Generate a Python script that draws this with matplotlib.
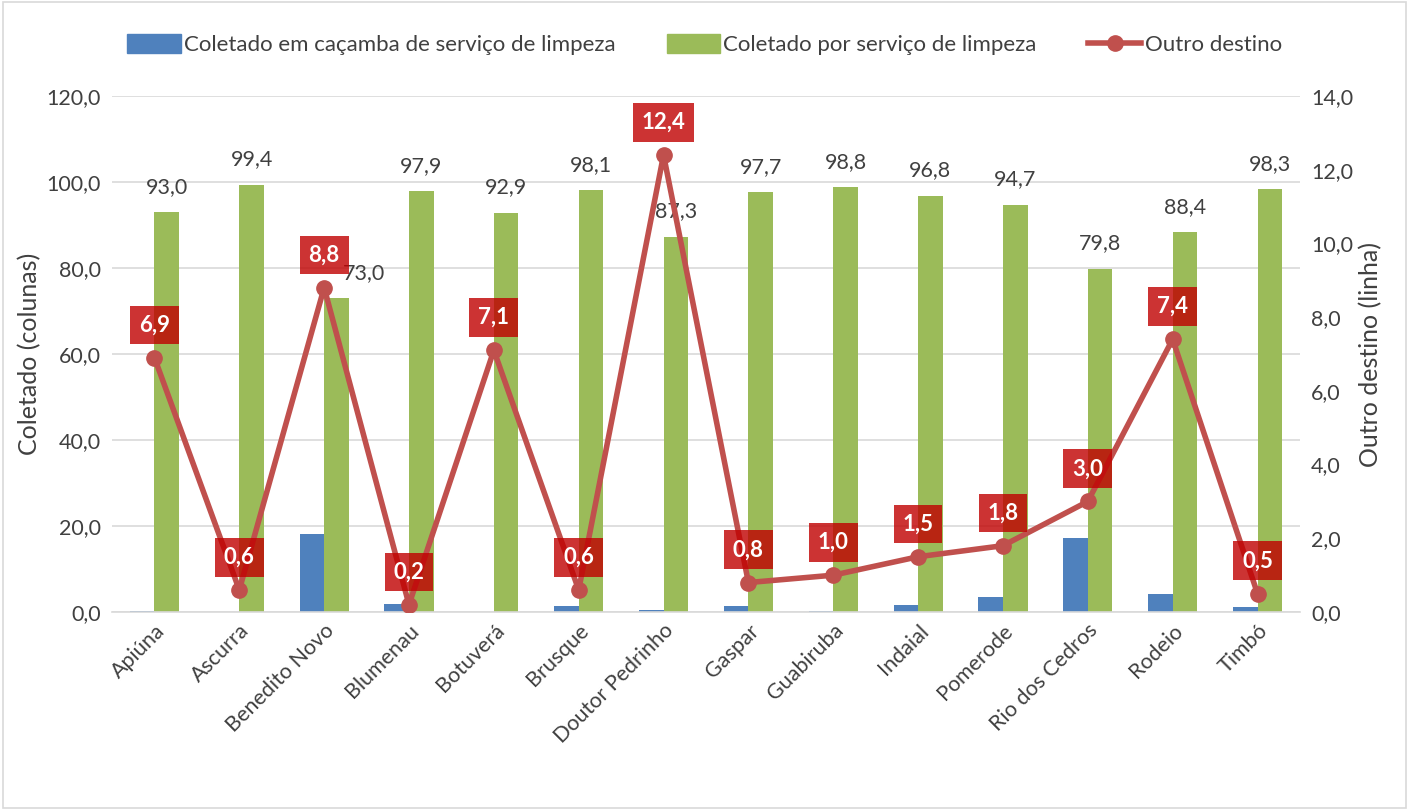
import numpy as np
import matplotlib
matplotlib.use("Agg")
import matplotlib.pyplot as plt
from matplotlib.lines import Line2D
from matplotlib.patches import Patch, Rectangle

plt.rcParams['font.family'] = ['Lato', 'DejaVu Sans']

municipios = ["Apiúna", "Ascurra", "Benedito Novo", "Blumenau", "Botuverá", "Brusque",
              "Doutor Pedrinho", "Gaspar", "Guabiruba", "Indaial", "Pomerode",
              "Rio dos Cedros", "Rodeio", "Timbó"]
cacamba = [0.2, 0.0, 18.1, 1.9, 0.0, 1.3, 0.4, 1.4, 0.2, 1.6, 3.4, 17.1, 4.1, 1.1]
servico = [93.0, 99.4, 73.0, 97.9, 92.9, 98.1, 87.3, 97.7, 98.8, 96.8, 94.7, 79.8, 88.4, 98.3]
outro = [6.9, 0.6, 8.8, 0.2, 7.1, 0.6, 12.4, 0.8, 1.0, 1.5, 1.8, 3.0, 7.4, 0.5]

BLUE = "#4F81BD"
GREEN = "#9BBB59"
RED = "#C0504D"
TXT = "#404040"


def fmt(v):
    return "{:.1f}".format(v).replace(".", ",")


fig = plt.figure(figsize=(14.09, 8.10), dpi=100)
fig.patches.append(Rectangle((0.002, 0.002), 0.996, 0.996, transform=fig.transFigure,
                             fill=False, edgecolor="#d9d9d9", lw=1.2))
ax = fig.add_axes([0.0795, 0.2444, 0.8431, 0.6371])
ax2 = ax.twinx()

x = np.arange(len(municipios))
w = 0.29
ax.bar(x - w / 2, cacamba, w, color=BLUE, zorder=2)
ax.bar(x + w / 2, servico, w, color=GREEN, zorder=2)

for i, v in enumerate(servico):
    dx = 20 if i == 2 else 0
    ax.annotate(fmt(v), (x[i] + w / 2, v), xytext=(dx, 11), textcoords="offset points",
                ha="center", va="bottom", fontsize=15.5, color=TXT)

ax.set_ylim(0, 120)
ax.set_yticks(np.arange(0, 121, 20))
ax.set_yticklabels([fmt(t) for t in np.arange(0, 121, 20)])
ax.set_xlim(-0.5, len(municipios) - 0.5)
ax.set_xticks(x)
ax.set_xticklabels(municipios, rotation=45, ha="right", rotation_mode="anchor")
ax.grid(axis="y", color="#d9d9d9", lw=1.2, zorder=0)
ax.set_axisbelow(True)
ax.set_ylabel("Coletado (colunas)", fontsize=18, color=TXT)

ax2.plot(x, outro, color=RED, lw=4, marker="o", ms=11, zorder=3)
for i, v in enumerate(outro):
    ax2.annotate(fmt(v), (x[i], v), xytext=(0, 16), textcoords="offset points",
                 ha="center", va="bottom", fontsize=16, color="white", fontweight="bold",
                 bbox=dict(boxstyle="square,pad=0.4", fc="#C00000", ec="none", alpha=0.8),
                 zorder=4)
ax2.set_ylim(0, 14)
ax2.set_yticks(np.arange(0, 15, 2))
ax2.set_yticklabels([fmt(t) for t in np.arange(0, 15, 2)])
ax2.set_ylabel("Outro destino (linha)", fontsize=18, color=TXT)

for a in (ax, ax2):
    for s in a.spines.values():
        s.set_visible(False)
    a.tick_params(length=0, labelsize=15.5, labelcolor=TXT, pad=8)
ax.spines["bottom"].set_visible(True)
ax.spines["bottom"].set_color("#d9d9d9")
ax.spines["bottom"].set_linewidth(1.2)
ax.tick_params(axis="x", pad=6)

handles = [Patch(color=BLUE), Patch(color=GREEN),
           Line2D([0], [0], color=RED, lw=4, marker="o", ms=11)]
labels = ["Coletado em caçamba de serviço de limpeza", "Coletado por serviço de limpeza",
          "Outro destino"]
fig.legend(handles, labels, loc="center", bbox_to_anchor=(0.5, 0.945), ncol=3,
           frameon=False, fontsize=16, handlelength=2.4, handleheight=0.9,
           handletextpad=0.15, columnspacing=2.3, labelcolor=TXT)

fig.savefig("out.png", dpi=100)
